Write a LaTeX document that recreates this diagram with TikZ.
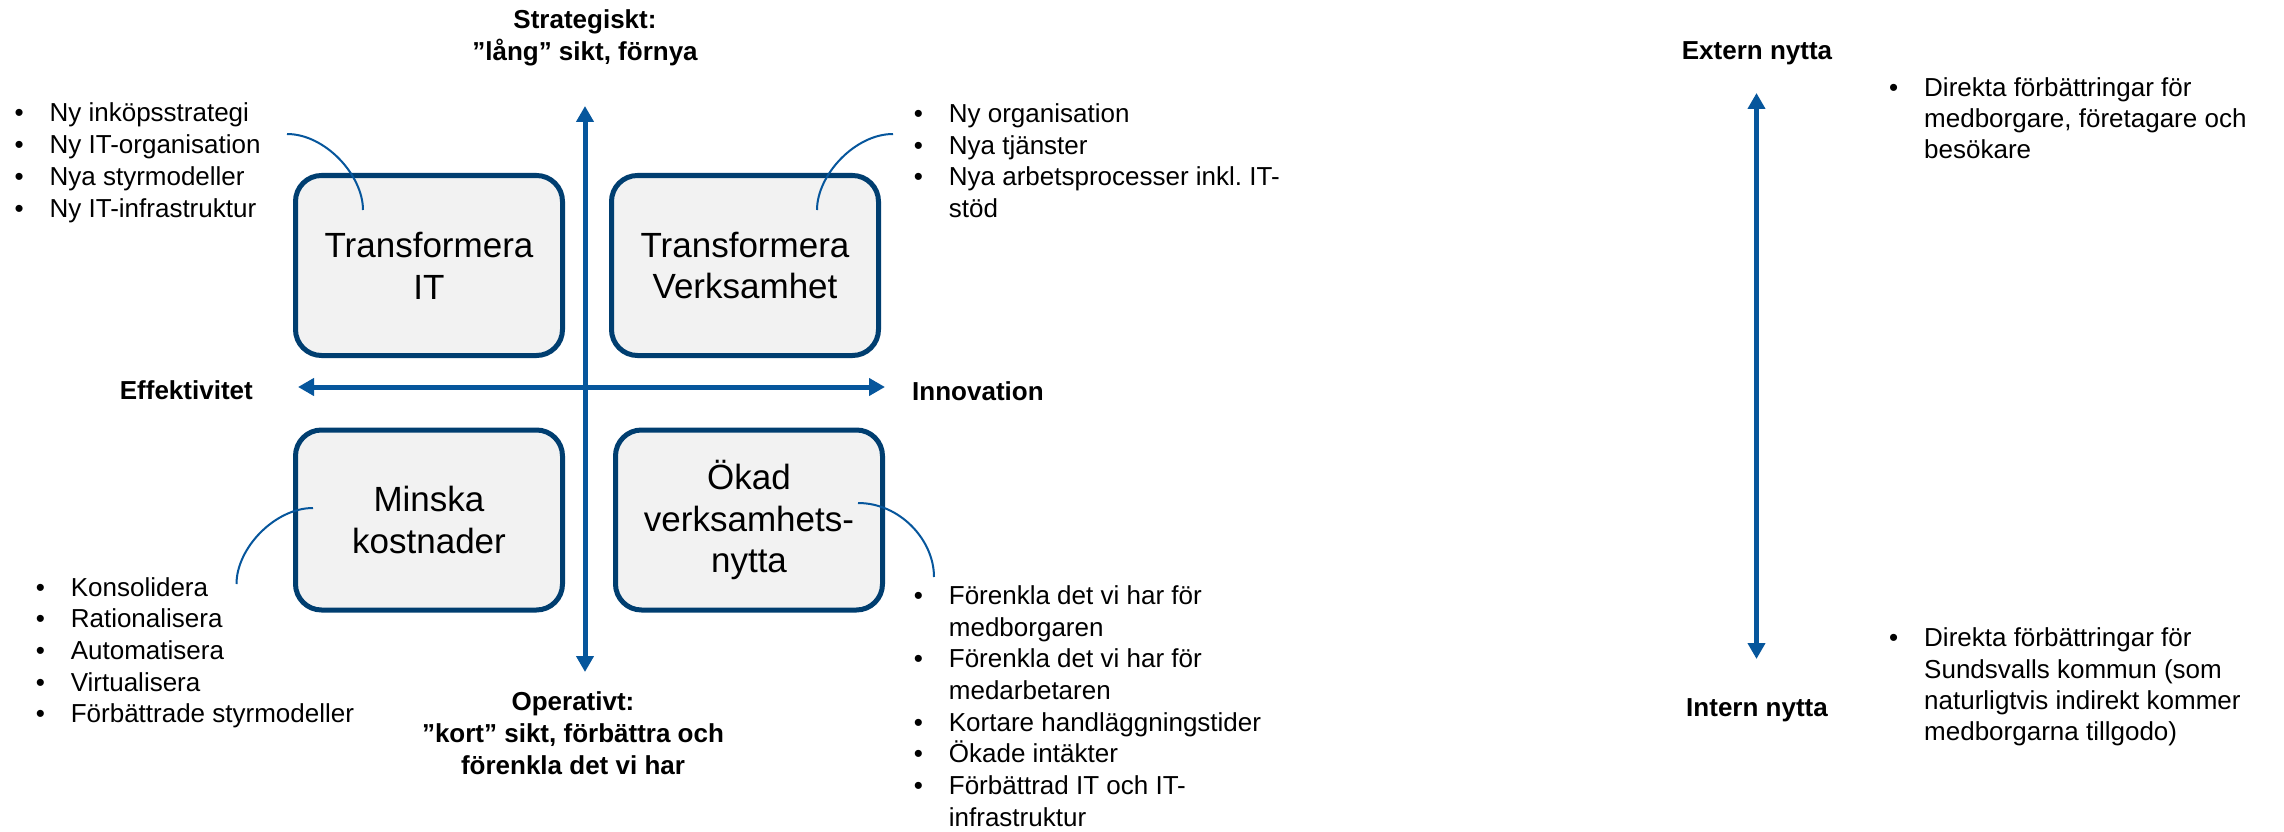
\documentclass[tikz,border=0pt]{standalone}
\usepackage{fontspec}
\setmainfont{Liberation Sans}
\usetikzlibrary{arrows.meta}
\frenchspacing

\definecolor{axisblue}{RGB}{6,86,156}
\definecolor{boxnavy}{RGB}{0,62,112}
\definecolor{boxfill}{RGB}{242,242,242}

% fixed-pitch stack of lines; baseline = first line
\newcommand\stack[2][31.7pt]{\vtop{\baselineskip=#1\lineskiplimit=-100pt\lineskip=0pt #2}}
\newcommand\itm[1]{\hbox{\makebox[35pt][l]{•}#1}}
\newcommand\cont[1]{\hbox{\hspace*{35pt}#1}}
\newcommand\ctr[1]{\hbox to 0pt{\hss#1\hss}}

\tikzset{
  quad/.style={draw=boxnavy, line width=5pt, fill=boxfill, rounded corners=26pt,
    minimum width=267pt, minimum height=180pt, inner sep=0pt, align=center,
    font=\fontsize{35}{41.7}\selectfont},
  axis/.style={draw=axisblue, line width=5pt,
    {Triangle[length=16pt,width=17pt]}-{Triangle[length=16pt,width=17pt]}},
  callout/.style={draw=axisblue, line width=2pt},
  blist/.style={anchor=base west, inner sep=0pt, font=\fontsize{26}{31.7}\selectfont},
  head/.style={anchor=base, inner sep=0pt, font=\fontsize{26}{31.7}\selectfont\bfseries},
}

\begin{document}
\begin{tikzpicture}[x=1pt,y=-1pt]
\useasboundingbox (0,0) rectangle (2284,832);
\fill[white] (0,0) rectangle (2284,832);

% quadrant boxes
\node[quad] (tl) at (429,265.5) {Transformera\\IT};
\node[quad] (tr) at (745,265.5) {Transformera\\Verksamhet};
\node[quad] (bl) at (429,520) {Minska\\kostnader};
\node[quad] (br) at (749,520) {Ökad\\verksamhets-\\nytta};

% axes
\coordinate (vtop) at (585,106);
\coordinate (vbot) at (585,672);
\coordinate (hleft) at (298,387);
\coordinate (hright) at (885,387);
\draw[axis] (vbot) -- (vtop);
\draw[axis] (hleft) -- (hright);

% axis labels
\node[head] (strat) at (585,28.5) {\stack{\ctr{Strategiskt:}\ctr{”lång” sikt, förnya}}};
\node[head] (oper) at (573,710.7) {\stack[32pt]{\ctr{Operativt:}\ctr{”kort” sikt, förbättra och}\ctr{förenkla det vi har}}};
\node[head, anchor=base east] (eff) at (253,399.5) {Effektivitet};
\node[head, anchor=base west] (inno) at (912,400) {Innovation};

% bullet lists
\node[blist] (tllist) at (14.4,122) {\stack{\itm{Ny inköpsstrategi}\itm{Ny IT-organisation}\itm{Nya styrmodeller}\itm{Ny IT-infrastruktur}}};
\node[blist] (trlist) at (913.7,122.5) {\stack{\itm{Ny organisation}\itm{Nya tjänster}\itm{Nya arbetsprocesser inkl. IT-}\cont{stöd}}};
\node[blist] (bllist) at (35.6,596) {\stack{\itm{Konsolidera}\itm{Rationalisera}\itm{Automatisera}\itm{Virtualisera}\itm{Förbättrade styrmodeller}}};
\node[blist] (brlist) at (913.7,604.3) {\stack{\itm{Förenkla det vi har för}\cont{medborgaren}\itm{Förenkla det vi har för}\cont{medarbetaren}\itm{Kortare handläggningstider}\itm{Ökade intäkter}\itm{Förbättrad IT och IT-}\cont{infrastruktur}}};

% callout curves from boxes to their lists
\coordinate (tlA) at (287,134);  \coordinate (tlB) at (363,210);
\coordinate (trA) at (893,134);  \coordinate (trB) at (817,210);
\coordinate (blA) at (313,508);  \coordinate (blB) at (236.5,584);
\coordinate (brA) at (858,503);  \coordinate (brB) at (934,577);
\draw[callout] (tlA) .. controls (325,134) and (363,175) .. (tlB);
\draw[callout] (trA) .. controls (855,134) and (817,175) .. (trB);
\draw[callout] (blA) .. controls (275,508) and (236.5,548) .. (blB);
\draw[callout] (brA) .. controls (900,503) and (934,540) .. (brB);

% external / internal benefit scale
\coordinate (rtop) at (1756.5,93);
\coordinate (rbot) at (1756.5,659);
\draw[axis] (rbot) -- (rtop);
\node[head] (ext) at (1757,59.3) {Extern nytta};
\node[head] (int) at (1757,716) {Intern nytta};
\node[blist] (extlist) at (1889,96.7) {\stack[31pt]{\itm{Direkta förbättringar för}\cont{medborgare, företagare och}\cont{besökare}}};
\node[blist] (intlist) at (1889,646.7) {\stack[31.3pt]{\itm{Direkta förbättringar för}\cont{Sundsvalls kommun (som}\cont{naturligtvis indirekt kommer}\cont{medborgarna tillgodo)}}};
\end{tikzpicture}
\end{document}
